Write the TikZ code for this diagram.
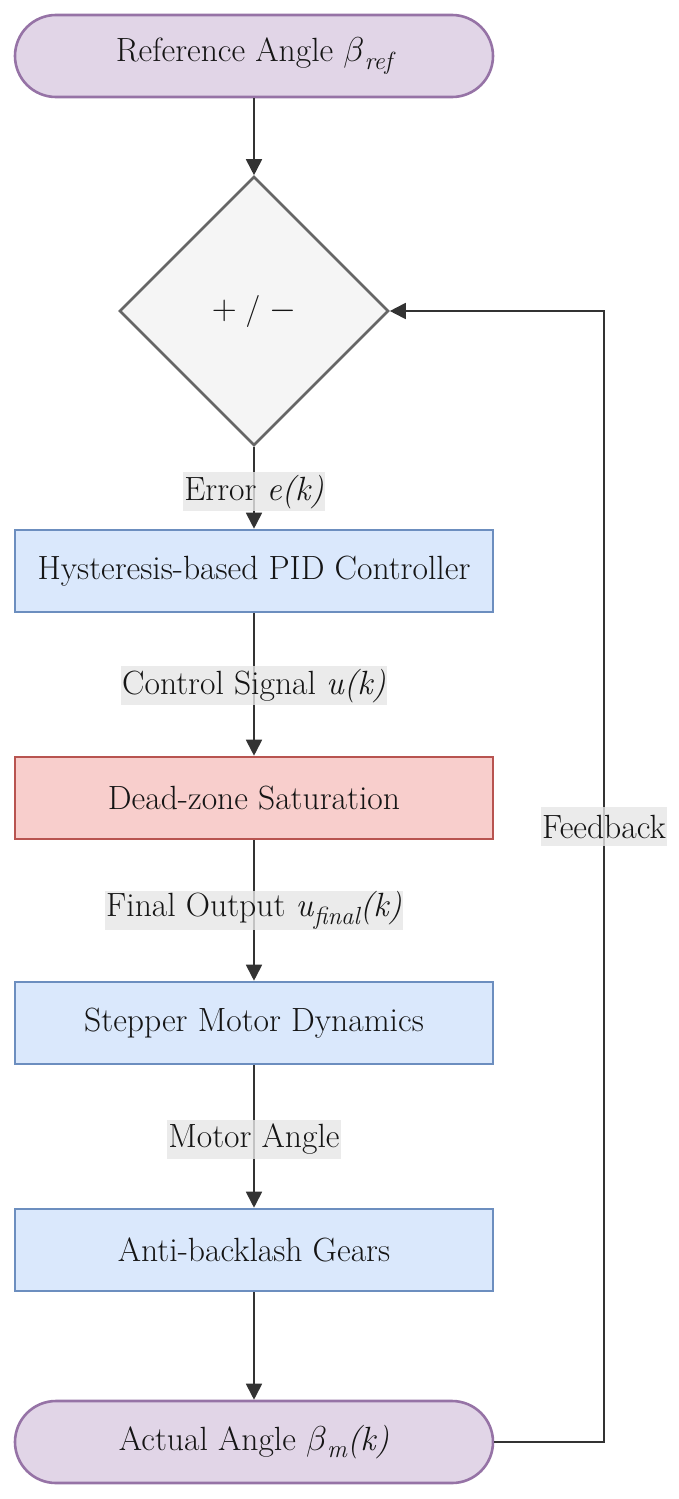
\documentclass[tikz,border=0pt]{standalone}
\usetikzlibrary{shapes.geometric,arrows.meta}
\definecolor{purfill}{HTML}{E1D5E7}
\definecolor{purdraw}{HTML}{9673A6}
\definecolor{bluefill}{HTML}{DAE8FC}
\definecolor{bluedraw}{HTML}{6C8EBF}
\definecolor{redfill}{HTML}{F8CECC}
\definecolor{reddraw}{HTML}{B85450}
\definecolor{diafill}{HTML}{F5F5F5}
\definecolor{diadraw}{HTML}{666666}
\definecolor{linec}{HTML}{333333}
\definecolor{txtc}{HTML}{151515}
\definecolor{lblc}{HTML}{E6E6E6}
\newcommand\subtx[1]{\raisebox{-0.5ex}{\fontsize{12.4}{12.4}\selectfont\itshape #1}}
\begin{document}
\begin{tikzpicture}[x=0.5pt,y=-0.5pt,
  font=\rmfamily\fontsize{16.8}{20}\selectfont, text=txtc,
  box/.style={rectangle, draw, line width=1.3pt, minimum width=239pt, minimum height=41pt, inner sep=0pt},
  bluebox/.style={box, fill=bluefill, draw=bluedraw},
  redbox/.style={box, fill=redfill, draw=reddraw},
  term/.style={box, rounded corners=20.5pt, fill=purfill, draw=purdraw},
  decide/.style={diamond, aspect=1, draw=diadraw, fill=diafill, line width=1.3pt, minimum width=134.5pt, minimum height=134.5pt, inner sep=0pt},
  conn/.style={draw=linec, line width=0.9pt, -{Triangle[length=8pt,width=8pt]}},
  lbl/.style={fill=lblc, fill opacity=0.8, text opacity=1, inner xsep=0.8pt, inner ysep=0pt, minimum height=19.5pt}]
\useasboundingbox (0,0) rectangle (679,1499);
\node[term] (ref) at (254,56) {Reference Angle $\beta$\subtx{ref}};
\node[decide] (dia) at (254,311) {\fontsize{16}{20}\selectfont $+$\;/\;$-$};
\node[bluebox] (pid) at (254,571) {Hysteresis-based PID Controller};
\node[redbox] (dz) at (254,798) {Dead-zone Saturation};
\node[bluebox] (mot) at (254,1023) {Stepper Motor Dynamics};
\node[bluebox] (gear) at (254,1250) {Anti-backlash Gears};
\node[term] (act) at (254,1442) {Actual Angle $\beta$\subtx{m}\textit{(k)}};
\coordinate (fbtop) at (604,311);
\draw[conn] (ref.south) -- (dia.north);
\draw[conn] (dia.south) -- node[lbl, pos=0.55] (l1) {Error \textit{e(k)}} (pid.north);
\draw[conn] (pid.south) -- node[lbl, pos=0.51] (l2) {Control Signal \textit{u(k)}} (dz.north);
\draw[conn] (dz.south) -- node[lbl, pos=0.5] (l3) {Final Output \textit{u}\subtx{final}\textit{(k)}} (mot.north);
\draw[conn] (mot.south) -- node[lbl, pos=0.52] (l4) {Motor Angle} (gear.north);
\draw[conn] (gear.south) -- (act.north);
\draw[conn] (act.east) -| node[lbl, pos=0.772] (l5) {Feedback} (fbtop) -- (dia.east);
\end{tikzpicture}
\end{document}
